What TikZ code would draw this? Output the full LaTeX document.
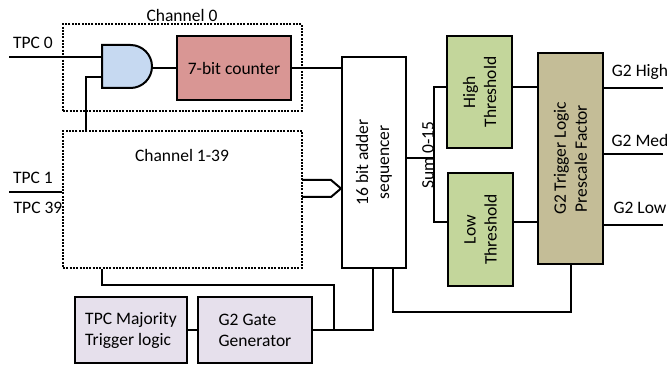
\documentclass[tikz,border=0pt]{standalone}
\usepackage{fontspec}
\setmainfont{Carlito}
\usepackage{xcolor}
\usepackage{tikz}
\usetikzlibrary{positioning}

\definecolor{cntred}{HTML}{D99694}
\definecolor{gateblue}{HTML}{C6D9F1}
\definecolor{thrgreen}{HTML}{C3D69B}
\definecolor{trigtan}{HTML}{C4BD97}
\definecolor{majlav}{HTML}{E6E0EC}

\begin{document}
\begin{tikzpicture}[
	x=1pt, y=-1pt,
	line width=2pt,
	font=\fontsize{17.5}{21}\selectfont
]
\tikzset{
    blk/.style = {rectangle, draw=black, align=center, inner sep=0pt},
    rblk/.style = {blk, rotate=90},
    chan/.style = {rectangle, draw=black, dash pattern=on 2pt off 1.3pt, inner sep=0pt},
    lbl/.style = {inner sep=0pt}
}
\useasboundingbox (0,0) rectangle (669,366);
% channel boxes
\node[chan,minimum width=239pt,minimum height=87pt] (ch0) at (182.5,67.5) {};
\node[chan,minimum width=239pt,minimum height=137pt] (ch1) at (182.5,199.5) {};
\node[lbl] (ch0lbl) at (182,15) {Channel 0};
\node[lbl] (ch1lbl) at (182,155) {Channel 1-39};
% and gate
\draw[fill=gateblue] (102,45) -- (130.5,45) arc[start angle=-90,end angle=90,radius=21.5] -- (102,88) -- cycle;
\coordinate (gin0) at (102,57);
\coordinate (gin1) at (102,77);
\coordinate (gout) at (152,68);
\node[blk,fill=cntred,minimum width=114pt,minimum height=64pt] (cnt) at (234,68) {7-bit counter};
% bus into adder
\draw (302,180) -- (331,180) -- (341,188.5) -- (331,197) -- (302,197);
\node[rblk,minimum width=211pt,minimum height=64pt] (adder) at (374,162.5) {16 bit adder\\sequencer};
\node[rblk,fill=thrgreen,minimum width=112pt,minimum height=65pt] (hi) at (479.5,92) {High\\Threshold};
\node[rblk,fill=thrgreen,minimum width=113pt,minimum height=65pt] (lo) at (480.5,229.5) {Low\\Threshold};
\node[rblk,fill=trigtan,minimum width=211pt,minimum height=65pt] (g2t) at (570.5,158.5) {G2 Trigger Logic\\Prescale Factor};
\node[blk,fill=majlav,minimum width=112pt,minimum height=66pt,align=left] (maj) at (131,330) {TPC Majority\\Trigger logic};
\node[blk,fill=majlav,minimum width=114pt,minimum height=66pt,align=left] (gate) at (255,330) {G2 Gate\\Generator};
% inputs
\coordinate (tpc0) at (9,57);
\coordinate (tpc1) at (9,192);
\node[lbl] (tpc0lbl) at (33,43) {TPC 0};
\node[lbl] (tpc1lbl) at (33,178) {TPC 1};
\node[lbl] (tpc39lbl) at (38,208) {TPC 39};
\draw (tpc0) -- (gin0);
\draw (tpc1) -- (tpc1 -| ch1.west);
\draw (gin1) -- ++(-16,0) coordinate (k) -- (k |- ch1.north);
\draw (gout) -- (gout -| cnt.west);
\draw (cnt.east) -- (cnt.east -| adder.north);
% sum
\coordinate (sumj) at (434,158);
\coordinate (sumtop) at (434,87);
\coordinate (sumbot) at (434,222);
\node[lbl,rotate=90] (sumlbl) at (428,155) {Sum 0-15};
\draw (sumj -| adder.south) -- (sumj);
\draw (hi.north |- sumtop) -- (sumtop) -- (sumbot) -- (sumbot -| lo.north);
\draw (hi.south |- sumtop) -- (sumtop -| g2t.north);
\draw (lo.south |- sumbot) -- (sumbot -| g2t.north);
% outputs
\coordinate (outhi) at (663,88);
\coordinate (outmed) at (663,154);
\coordinate (outlo) at (663,225);
\draw (outhi -| g2t.south) -- (outhi);
\draw (outmed -| g2t.south) -- (outmed);
\draw (outlo -| g2t.south) -- (outlo);
\node[lbl] (hilbl) at (640,72) {G2 High};
\node[lbl] (medlbl) at (640,140) {G2 Med};
\node[lbl] (lolbl) at (640,208) {G2 Low};
% feedback lines
\coordinate (fb) at (393,312);
\draw (g2t.west) |- (fb) -- (fb |- adder.west);
\coordinate (ch1out) at (102,285);
\coordinate (gj) at (334,330);
\coordinate (ga) at (373,330);
\draw (ch1out |- ch1.south) -- (ch1out) -| (gj);
\draw (gate.east) -- (ga) -- (ga |- adder.west);
\draw (maj.east) -- (gate.west);
\end{tikzpicture}
\end{document}
